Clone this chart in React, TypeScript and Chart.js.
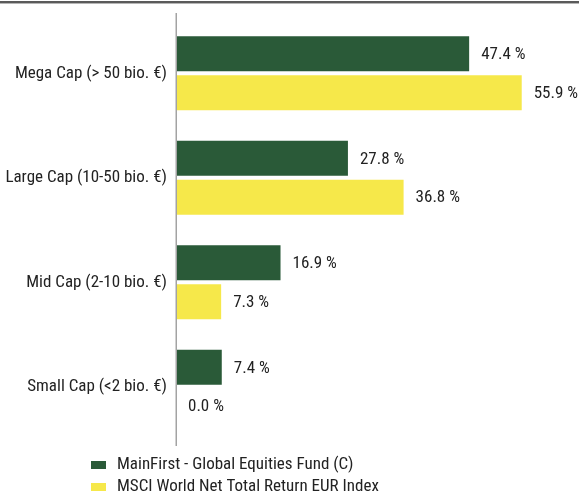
import React, { useEffect, useRef } from "react";
import { Chart, registerables } from "chart.js";

Chart.register(...registerables);

const categories = [
  "Mega Cap (> 50 bio. €)",
  "Large Cap (10-50 bio. €)",
  "Mid Cap (2-10 bio. €)",
  "Small Cap (<2 bio. €)",
];
const fundName = "MainFirst - Global Equities Fund (C)";
const indexName = "MSCI World Net Total Return EUR Index";
const fundValues = [47.4, 27.8, 16.9, 7.4];
const indexValues = [55.9, 36.8, 7.3, 0.0];

const GREEN = "#2a5a38";
const YELLOW = "#f6e84a";
const FONT = "'Roboto Condensed', 'DejaVu Sans Condensed', sans-serif";
const TEXT = "#222222";
const FS = 17;

const decorPlugin = {
  id: "decor",
  afterDatasetsDraw(chart: any) {
    const ctx = chart.ctx;
    ctx.save();
    // value labels
    ctx.font = `${FS}px ${FONT}`;
    ctx.fillStyle = TEXT;
    ctx.textAlign = "left";
    ctx.textBaseline = "middle";
    chart.data.datasets.forEach((ds: any, di: number) => {
      const meta = chart.getDatasetMeta(di);
      meta.data.forEach((bar: any, i: number) => {
        const v = ds.data[i] as number;
        ctx.fillText(v.toFixed(1) + " %", bar.x + 12, bar.y + 1);
      });
    });
    // axis line
    const x = chart.chartArea.left;
    ctx.strokeStyle = "#a3a3a3";
    ctx.lineWidth = 1.5;
    ctx.beginPath();
    ctx.moveTo(x + 0.25, 13);
    ctx.lineTo(x + 0.25, 446);
    ctx.stroke();
    // top rule
    ctx.fillStyle = "#5a5a5a";
    ctx.fillRect(0, 1, chart.width, 2);
    ctx.fillStyle = "#b5b5b5";
    ctx.fillRect(0, 3, chart.width, 1);
    // legend
    const items = [
      { color: GREEN, label: fundName, y: 465 },
      { color: YELLOW, label: indexName, y: 487 },
    ];
    items.forEach((it) => {
      ctx.fillStyle = it.color;
      ctx.fillRect(91, it.y - 4, 15, 8);
      ctx.fillStyle = TEXT;
      ctx.fillText(it.label, 117, it.y);
    });
    ctx.restore();
  },
};

export default function App() {
  const ref = useRef<HTMLCanvasElement | null>(null);
  useEffect(() => {
    if (!ref.current) return;
    const chart = new Chart(ref.current, {
      type: "bar",
      data: {
        labels: categories,
        datasets: [
          { label: fundName, data: fundValues, backgroundColor: GREEN, categoryPercentage: 0.746, barPercentage: 0.9 },
          { label: indexName, data: indexValues, backgroundColor: YELLOW, categoryPercentage: 0.746, barPercentage: 0.9 },
        ],
      },
      options: {
        indexAxis: "y",
        animation: false,
        responsive: false,
        maintainAspectRatio: false,
        layout: { padding: { top: 21, bottom: 54, left: 0, right: 1 } },
        plugins: { legend: { display: false }, tooltip: { enabled: false } },
        scales: {
          x: { display: false, min: 0, max: 65 },
          y: {
            grid: { display: false, drawTicks: false },
            border: { display: false },
            ticks: { color: TEXT, font: { size: FS, family: FONT }, padding: 9 },
            afterFit(scale: any) {
              scale.width = 176;
            },
          },
        },
      },
      plugins: [decorPlugin],
    });
    return () => chart.destroy();
  }, []);
  return (
    <div style={{ position: "fixed", left: 0, top: 0, width: 579, height: 493, background: "#fff" }}>
      <canvas ref={ref} width={579} height={493} style={{ display: "block" }} />
    </div>
  );
}
